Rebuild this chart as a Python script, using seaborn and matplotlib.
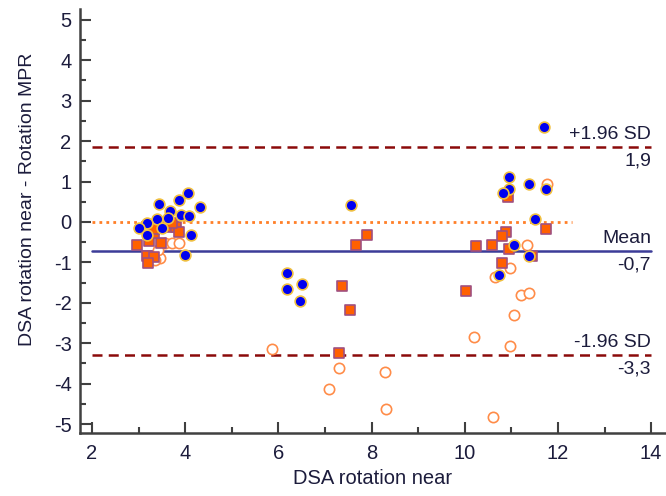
import numpy as np
import pandas as pd
import seaborn as sns
import matplotlib.pyplot as plt

# blue filled circles
blue_x = [4.05, 3.87, 3.44, 4.32, 3.67, 3.92, 4.09, 3.40, 3.62, 3.18, 3.01, 3.50, 3.18, 4.12, 4.00,
          7.56, 6.18, 6.18, 6.50, 6.46,
          11.70, 10.96, 10.96, 10.83, 11.37, 11.74, 11.50, 11.06, 11.37, 10.73]
blue_y = [0.71, 0.54, 0.44, 0.38, 0.26, 0.18, 0.15, 0.07, 0.11, -0.03, -0.14, -0.14, -0.33, -0.31, -0.82,
          0.43, -1.25, -1.65, -1.53, -1.96,
          2.36, 1.11, 0.82, 0.71, 0.94, 0.82, 0.07, -0.56, -0.84, -1.31]

# orange filled squares
square_x = [2.96, 3.23, 3.49, 3.17, 3.33, 3.21, 3.32, 3.34, 3.64, 3.80, 3.87, 3.71,
            7.90, 7.66, 7.36, 7.54, 7.31,
            10.93, 11.74, 10.88, 10.79, 10.58, 10.24, 10.95, 11.44, 10.80, 10.02]
square_y = [-0.57, -0.47, -0.53, -0.84, -0.87, -1.02, -0.28, -0.18, -0.12, -0.12, -0.24, -0.03,
            -0.33, -0.56, -1.58, -2.18, -3.23,
            0.61, -0.18, -0.25, -0.35, -0.57, -0.59, -0.68, -0.83, -1.02, -1.70]

# open orange circles
open_x = [3.57, 3.71, 3.87, 3.46, 3.42, 3.36,
          5.86, 7.31, 8.29, 7.09, 8.30,
          11.77, 11.33, 10.97, 10.66, 11.20, 11.37, 11.06, 10.19, 10.97, 10.61]
open_y = [-0.53, -0.53, -0.53, -0.90, -0.70, -0.95,
          -3.15, -3.61, -3.71, -4.14, -4.62,
          0.94, -0.58, -1.15, -1.37, -1.81, -1.76, -2.29, -2.84, -3.07, -4.82]

mean_diff = -0.72
sd_upper = 1.86
sd_lower = -3.30
line_labels = [("+1.96 SD", "1,9"), ("Mean", "-0,7"), ("-1.96 SD", "-3,3")]

sns.set_style("ticks")
plt.rcParams['font.family'] = ['Liberation Sans', 'DejaVu Sans']
plt.rcParams['axes.unicode_minus'] = False
text_color = '#1c1c3c'

fig = plt.figure(figsize=(6.66, 4.96), dpi=100)
ax = fig.add_axes([0.12, 0.127, 0.88, 0.855])

df_blue = pd.DataFrame({'x': blue_x, 'y': blue_y})
df_sq = pd.DataFrame({'x': square_x, 'y': square_y})
df_open = pd.DataFrame({'x': open_x, 'y': open_y})

ax.plot([2, 12.3], [0, 0], color='#ff7f27', ls=(0, (1, 1.5)), lw=2, zorder=1)
ax.plot([2, 14], [mean_diff, mean_diff], color='#3c3c98', lw=1.8, zorder=1)
for v in (sd_upper, sd_lower):
    ax.plot([2, 14], [v, v], color='#8b0a0a', ls=(0, (4, 2.5)), lw=1.8, zorder=1)

sns.scatterplot(data=df_open, x='x', y='y', ax=ax, marker='o', s=55,
                facecolor='white', edgecolor='#ff8c48', linewidth=1.2, zorder=2)
sns.scatterplot(data=df_sq, x='x', y='y', ax=ax, marker='s', s=60,
                color='#ff6000', edgecolor='#a05080', linewidth=1.2, zorder=3)
sns.scatterplot(data=df_blue, x='x', y='y', ax=ax, marker='o', s=60,
                color='#0000f0', edgecolor='#f0c040', linewidth=1.2, zorder=4)

for (top, bottom), v in zip(line_labels, (sd_upper, mean_diff, sd_lower)):
    ax.annotate(top, (14, v), xytext=(0, 3), textcoords='offset points',
                ha='right', va='bottom', fontsize=14, color=text_color)
    ax.annotate(bottom, (14, v), xytext=(0, -4), textcoords='offset points',
                ha='right', va='top', fontsize=14, color=text_color)

ax.set_xlim(1.74, 14.32)
ax.set_ylim(-5.22, 5.27)
ax.set_xticks(range(2, 15, 2))
ax.set_xticks(range(3, 15, 2), minor=True)
ax.set_yticks(range(-5, 6))
ax.set_yticks(np.arange(-4.5, 5, 1), minor=True)
ax.tick_params(which='major', direction='in', length=8, width=1.5, color='#404040',
               labelsize=14.5, labelcolor=text_color)
ax.tick_params(which='minor', direction='in', length=4.5, width=1.5, color='#404040')
ax.tick_params(axis='x', pad=8)
ax.tick_params(axis='y', pad=6)
ax.set_xlabel("DSA rotation near", fontsize=14.5, color=text_color, labelpad=4)
ax.set_ylabel("DSA rotation near - Rotation MPR", fontsize=14, color=text_color)
ax.yaxis.set_label_coords(-0.075, 0.55)
for s in ('left', 'bottom'):
    ax.spines[s].set_linewidth(1.8)
    ax.spines[s].set_color('#404040')
sns.despine(ax=ax)

fig.savefig("out.png", dpi=100)
